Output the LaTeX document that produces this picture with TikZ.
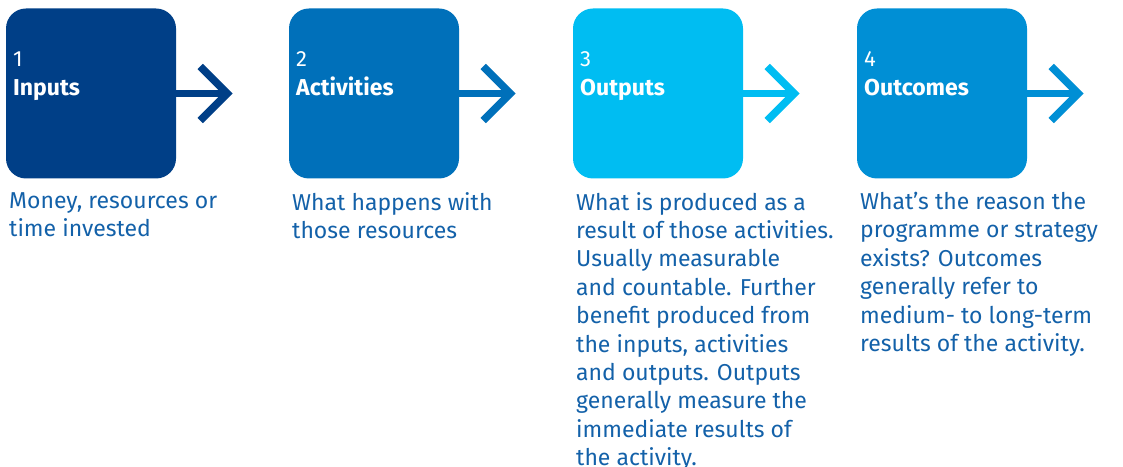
\documentclass[tikz,border=0pt]{standalone}
\usepackage{fontspec}
\setmainfont{Fira Sans}
\definecolor{cA}{HTML}{003F87}
\definecolor{cB}{HTML}{0070BA}
\definecolor{cC}{HTML}{00BDF2}
\definecolor{cD}{HTML}{008FD5}
\definecolor{desc}{HTML}{1361A9}
\begin{document}
\begin{tikzpicture}[x=1pt,y=1pt,
  stepbox/.style={minimum width=170pt,minimum height=170pt,rounded corners=20pt,inner sep=0pt},
  numtext/.style={white,anchor=base west,inner sep=0pt,font=\fontsize{22}{24}\selectfont},
  titletext/.style={white,anchor=base west,inner sep=0pt,font=\fontsize{23}{24}\selectfont\bfseries},
  desctext/.style={desc,anchor=north west,inner sep=0pt,align=left,font=\fontsize{23}{28.4}\selectfont},
  arrline/.style={line width=7.5pt},
  chevron/.style={line width=7.5pt,miter limit=10}]
\useasboundingbox (0,0) rectangle (1123,466);
\foreach \i/\xl/\col/\num/\ttl in {1/6/cA/1/Inputs,2/289/cB/2/Activities,3/573/cC/3/Outputs,4/857/cD/4/Outcomes}{
  \node[stepbox,fill=\col] (box\i) at (\xl+85,372.5) {};
  \node[numtext] (num\i) at (\xl+7,399) {\num};
  \node[titletext] (ttl\i) at (\xl+7,370) {\ttl};
  \coordinate (tip\i) at ([xshift=51pt]box\i.east);
  \draw[arrline,draw=\col] (box\i.east) -- (tip\i);
  \draw[chevron,draw=\col] ([xshift=-27pt,yshift=27pt]tip\i) -- (tip\i) -- ([xshift=-27pt,yshift=-27pt]tip\i);
}
\node[desctext] (d1) at (9,274) {Money, resources or\\time invested};
\node[desctext] (d2) at (292,274) {What happens with\\those resources};
\node[desctext] (d3) at (576,274) {What is produced as a\\result of those activities.\\Usually measurable\\and countable. Further\\benefit produced from\\the inputs, activities\\and outputs. Outputs\\generally measure the\\immediate results of\\the activity.};
\node[desctext] (d4) at (860,274) {What’s the reason the\\programme or strategy\\exists? Outcomes\\generally refer to\\medium- to long-term\\results of the activity.};
\end{tikzpicture}
\end{document}
